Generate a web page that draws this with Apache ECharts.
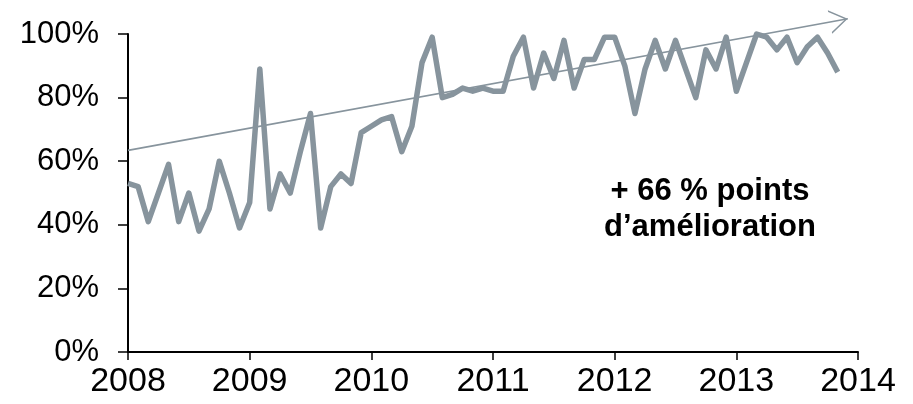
<!DOCTYPE html>
<html>
<head>
<meta charset="utf-8">
<script src="https://cdn.jsdelivr.net/npm/echarts@6/dist/echarts.min.js"></script>
<style>html,body{margin:0;padding:0;background:#fff}#c{width:913px;height:404px}</style>
</head>
<body>
<div id="c"></div>
<script>
// Monthly values, Jan 2008 .. Nov 2013 (percent)
const values2008 = [53, 52, 41, 50, 59, 41, 50, 38, 45, 60, 50, 39];
const values2009 = [47, 89, 45, 56, 50, 63, 75, 39, 52, 56, 53, 69];
const values2010 = [71, 73, 74, 63, 71, 91, 99, 80, 81, 83, 82, 83];
const values2011 = [82, 82, 93, 99, 83, 94, 86, 98, 83, 92, 92, 99];
const values2012 = [99, 90, 75, 89, 98, 89, 98, 89, 80, 95, 89, 99];
const values2013 = [82, 91, 100, 99, 95, 99, 91, 96, 99, 94, 88];
const startYear = 2008;
const yearTicks = [2008, 2009, 2010, 2011, 2012, 2013, 2014];
const trendStart = [0, 63.4];
const trendEnd = [71, 104.8];
const noteLines = ['+ 66 % points', 'd\u2019amélioration'];

const monthly = [].concat(values2008, values2009, values2010, values2011, values2012, values2013);
const seriesData = monthly.map((v, i) => [i, v]);

const chart = echarts.init(document.getElementById('c'));
const FONT = '"Liberation Sans", Arial, sans-serif';
const LINE = '#87949D';
chart.setOption({
  animation: false,
  grid: { left: 128, right: 55, top: 34, bottom: 52 },
  xAxis: {
    type: 'value', min: 0, max: (yearTicks.length - 1) * 12, interval: 12,
    axisLine: { lineStyle: { color: '#000', width: 2 } },
    axisTick: { show: true, length: 8, lineStyle: { color: '#000', width: 1.5 } },
    axisLabel: { fontFamily: FONT, fontSize: 34, color: '#000', margin: 13,
      formatter: v => String(yearTicks[Math.round(v / 12)]) },
    splitLine: { show: false }
  },
  yAxis: {
    type: 'value', min: 0, max: 100, interval: 20,
    axisLine: { show: true, lineStyle: { color: '#000', width: 2 } },
    axisTick: { show: true, inside: false, length: 10, lineStyle: { color: '#000', width: 1.5 } },
    axisLabel: { fontFamily: FONT, fontSize: 31, color: '#000', margin: 29, formatter: v => v + '%' },
    splitLine: { show: false }
  },
  series: [
    {
      type: 'line', data: seriesData, showSymbol: false, symbol: 'none',
      lineStyle: { color: LINE, width: 5.5, join: 'round' }, clip: false, z: 3
    },
    {
      type: 'line', clip: false, z: 4,
      showSymbol: true, showAllSymbol: true,
      lineStyle: { color: LINE, width: 1.6 },
      itemStyle: { color: LINE },
      data: [
        { value: trendStart, symbol: 'none' },
        { value: trendEnd,
          symbol: 'path://M0,0 L18,12 L0,24 L0,22.2 L15.4,12 L0,1.8 Z',
          symbolSize: [18, 24], symbolKeepAspect: false, symbolRotate: 10.4,
          symbolOffset: [-9, 1.7] }
      ]
    }
  ],
  graphic: [
    { type: 'text', x: 710, y: 176,
      style: { text: noteLines[0], font: 'bold 31px ' + FONT, fill: '#000', textAlign: 'center', textVerticalAlign: 'top' } },
    { type: 'text', x: 710, y: 212,
      style: { text: noteLines[1], font: 'bold 31px ' + FONT, fill: '#000', textAlign: 'center', textVerticalAlign: 'top' } }
  ]
});
</script>
</body>
</html>
